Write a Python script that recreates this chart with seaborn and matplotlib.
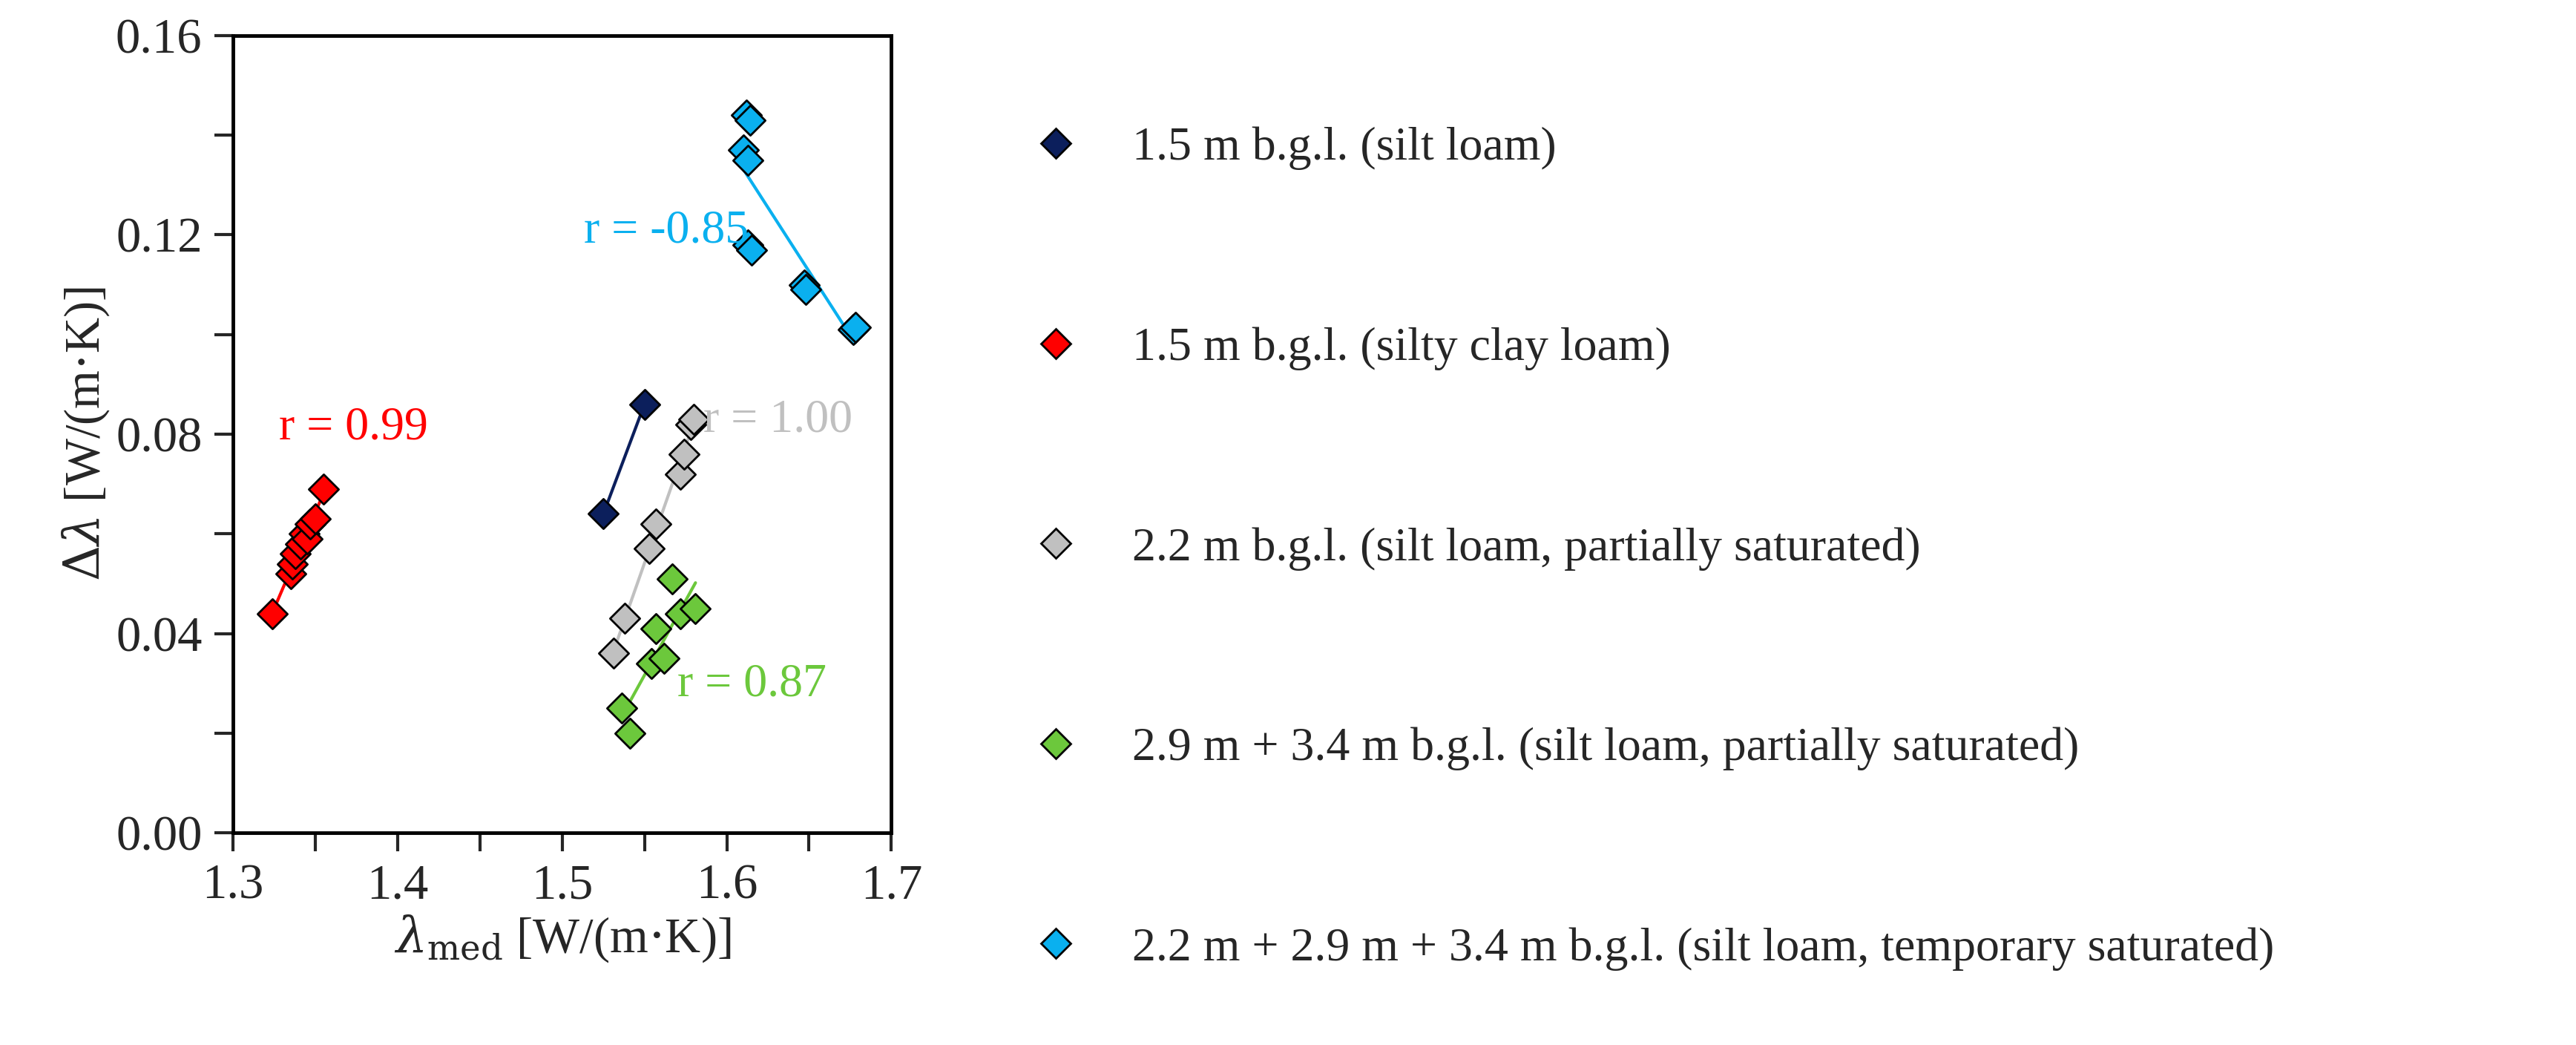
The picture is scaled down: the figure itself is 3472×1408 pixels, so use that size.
import numpy as np
import pandas as pd
import seaborn as sns
import matplotlib.pyplot as plt
from matplotlib.lines import Line2D
from matplotlib.ticker import MultipleLocator

sns.set_theme(style='white')
plt.rcParams['font.family'] = ['Liberation Serif', 'DejaVu Serif']
plt.rcParams['mathtext.fontset'] = 'dejavuserif'

labels = ['1.5 m b.g.l. (silt loam)',
          '1.5 m b.g.l. (silty clay loam)',
          '2.2 m b.g.l. (silt loam, partially saturated)',
          '2.9 m + 3.4 m b.g.l. (silt loam, partially saturated)',
          '2.2 m + 2.9 m + 3.4 m b.g.l. (silt loam, temporary saturated)']
colors = ['#0c1f5c', '#ff0000', '#c0c0c0', '#6cc83c', '#0ab0ef']

navy_x = [1.525, 1.550]
navy_y = [0.064, 0.086]
red_x = [1.324, 1.335, 1.336, 1.338, 1.341, 1.343, 1.345, 1.347, 1.350, 1.355]
red_y = [0.044, 0.052, 0.054, 0.056, 0.058, 0.060, 0.059, 0.062, 0.063, 0.069]
gray_x = [1.531, 1.538, 1.553, 1.557, 1.572, 1.574, 1.578, 1.580]
gray_y = [0.036, 0.043, 0.057, 0.062, 0.072, 0.076, 0.082, 0.083]
green_x = [1.536, 1.541, 1.554, 1.557, 1.562, 1.567, 1.572, 1.581]
green_y = [0.025, 0.020, 0.034, 0.041, 0.035, 0.051, 0.044, 0.045]
blue_x = [1.612, 1.614, 1.610, 1.613, 1.613, 1.615, 1.647, 1.648, 1.677, 1.678]
blue_y = [0.144, 0.143, 0.137, 0.135, 0.118, 0.117, 0.110, 0.109, 0.101, 0.1015]

series_x = [navy_x, red_x, gray_x, green_x, blue_x]
series_y = [navy_y, red_y, gray_y, green_y, blue_y]
r_text = [None, 'r = 0.99', 'r = 1.00', 'r = 0.87', 'r = -0.85']
r_pos = [None, (1.328, 0.079), (1.586, 0.0805), (1.570, 0.0275), (1.513, 0.1185)]

df = pd.concat([pd.DataFrame({'x': x, 'y': y, 'group': lab})
                for x, y, lab in zip(series_x, series_y, labels)])

fig = plt.figure(figsize=(34.72, 14.08), dpi=100)
ax = fig.add_axes([0.0905, 0.203, 0.2555, 0.763])

for i, lab in enumerate(labels):
    sub = df[df['group'] == lab]
    sns.regplot(data=sub, x='x', y='y', ax=ax, scatter=False, ci=None,
                truncate=True, line_kws={'color': colors[i], 'lw': 3})
for i, lab in enumerate(labels):
    sub = df[df['group'] == lab]
    sns.scatterplot(data=sub, x='x', y='y', ax=ax, marker='D', s=420,
                    color=colors[i], edgecolor='black', linewidth=2, zorder=3)
    if r_text[i]:
        ax.text(*r_pos[i], r_text[i], color=colors[i], fontsize=46)

ax.set_xlim(1.3, 1.7)
ax.set_ylim(0, 0.16)
ax.set_xticks([1.3, 1.4, 1.5, 1.6, 1.7])
ax.set_yticks([0, 0.04, 0.08, 0.12, 0.16])
ax.set_yticklabels(['0.00', '0.04', '0.08', '0.12', '0.16'])
ax.xaxis.set_minor_locator(MultipleLocator(0.05))
ax.yaxis.set_minor_locator(MultipleLocator(0.02))
ax.tick_params(which='both', direction='out', length=18, width=3,
               labelsize=48, bottom=True, left=True, pad=12)
for s in ax.spines.values():
    s.set_linewidth(3.5)
    s.set_color('black')
ax.set_xlabel(r'$\lambda_{\rm med}$ [W/(m$\cdot$K)]', fontsize=48)
ax.set_ylabel(r'$\Delta\lambda$ [W/(m$\cdot$K)]', fontsize=48)

handles = [Line2D([], [], marker='D', ls='none', markersize=20, markerfacecolor=c,
                  markeredgecolor='black', markeredgewidth=2) for c in colors]
fig.legend(handles, labels, loc='center left', bbox_to_anchor=(0.375, 0.475),
           frameon=False, fontsize=46, labelspacing=3.3, handletextpad=0.6)

fig.savefig('out.png')
